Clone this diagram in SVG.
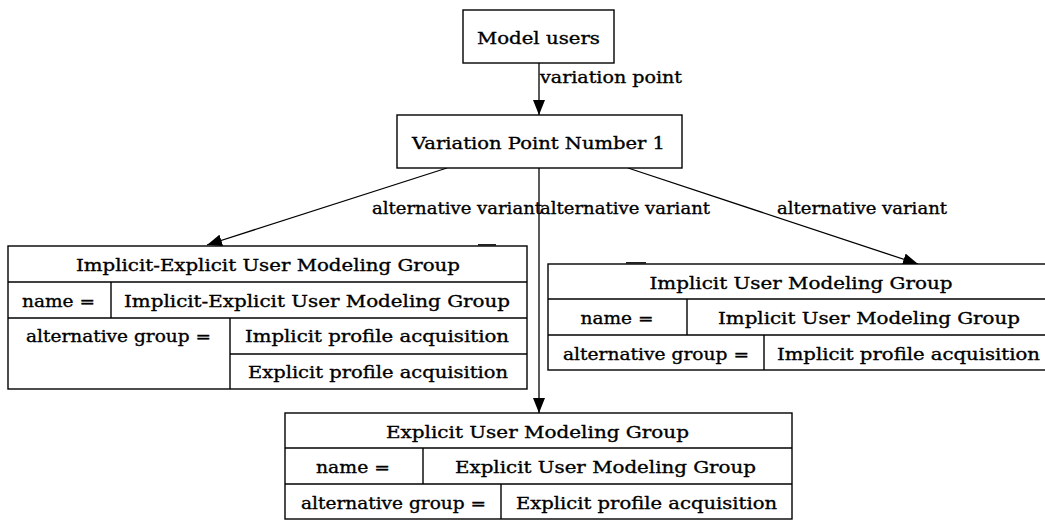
<svg xmlns="http://www.w3.org/2000/svg" width="1045" height="520" viewBox="0 0 1045 520">
  <style>
    text { font-family: "DejaVu Serif", "Liberation Serif", serif; font-size: 17px; fill: #000; stroke: #000; stroke-width: 0.35; }
    .c { text-anchor: middle; }
    .box { fill: #fff; stroke: #000; stroke-width: 1.4; }
    .rule { stroke: #000; stroke-width: 1.4; fill: none; }
    .edge { stroke: #000; stroke-width: 1.3; fill: none; marker-end: url(#arrow); }
    .nick { stroke: #222; stroke-width: 2; }
  </style>
  <defs>
    <marker id="arrow" markerUnits="userSpaceOnUse" markerWidth="15" markerHeight="12" refX="15" refY="6" orient="auto">
      <path d="M0,0 L15,6 L0,12 z" fill="#000"/>
    </marker>
  </defs>

  <rect width="1045" height="520" fill="#fff"/>

  <!-- connectors -->
  <g id="edges">
    <line class="edge" x1="539" y1="63" x2="539" y2="115"/>
    <line class="edge" x1="447" y1="168" x2="207" y2="245"/>
    <line class="edge" x1="539" y1="168" x2="539" y2="413"/>
    <line class="edge" x1="628" y1="168" x2="918" y2="264"/>
    <text x="540" y="83" textLength="142" lengthAdjust="spacingAndGlyphs">variation point</text>
    <text x="372" y="214" textLength="170" lengthAdjust="spacingAndGlyphs">alternative variant</text>
    <text x="540" y="214" textLength="170" lengthAdjust="spacingAndGlyphs">alternative variant</text>
    <text x="777" y="214" textLength="170" lengthAdjust="spacingAndGlyphs">alternative variant</text>
  </g>

  <!-- root node -->
  <g id="model-users">
    <rect class="box" x="463" y="10" width="151" height="53"/>
    <text class="c" x="538.5" y="44" textLength="123" lengthAdjust="spacingAndGlyphs">Model users</text>
  </g>

  <!-- variation point -->
  <g id="variation-point-1">
    <rect class="box" x="397" y="115" width="285" height="53"/>
    <text class="c" x="538.5" y="149" textLength="253" lengthAdjust="spacingAndGlyphs">Variation Point Number 1</text>
  </g>

  <!-- Implicit-Explicit group table -->
  <g id="implicit-explicit-group">
    <rect class="box" x="8" y="246" width="519" height="143"/>
    <line class="rule" x1="8" y1="282" x2="527" y2="282"/>
    <line class="rule" x1="8" y1="318" x2="527" y2="318"/>
    <line class="rule" x1="230" y1="354" x2="527" y2="354"/>
    <line class="rule" x1="111" y1="282" x2="111" y2="318"/>
    <line class="rule" x1="230" y1="318" x2="230" y2="389"/>
    <line class="nick" x1="478" y1="245" x2="496" y2="245"/>
    <text class="c" x="268" y="270.5" textLength="384" lengthAdjust="spacingAndGlyphs">Implicit-Explicit User Modeling Group</text>
    <text class="c" x="58.5" y="306.5" textLength="73" lengthAdjust="spacingAndGlyphs">name =</text>
    <text class="c" x="317" y="306.5" textLength="386" lengthAdjust="spacingAndGlyphs">Implicit-Explicit User Modeling Group</text>
    <text class="c" x="118.5" y="342" textLength="185" lengthAdjust="spacingAndGlyphs">alternative group =</text>
    <text class="c" x="377" y="342" textLength="264" lengthAdjust="spacingAndGlyphs">Implicit profile acquisition</text>
    <text class="c" x="378" y="378" textLength="260" lengthAdjust="spacingAndGlyphs">Explicit profile acquisition</text>
  </g>

  <!-- Implicit group table -->
  <g id="implicit-group">
    <rect class="box" x="548" y="264" width="505" height="106"/>
    <line class="rule" x1="548" y1="299" x2="1053" y2="299"/>
    <line class="rule" x1="548" y1="335" x2="1053" y2="335"/>
    <line class="rule" x1="687" y1="299" x2="687" y2="335"/>
    <line class="rule" x1="764" y1="335" x2="764" y2="370"/>
    <line class="nick" x1="626" y1="263" x2="646" y2="263"/>
    <text class="c" x="801" y="288.5" textLength="303" lengthAdjust="spacingAndGlyphs">Implicit User Modeling Group</text>
    <text class="c" x="617" y="324" textLength="73" lengthAdjust="spacingAndGlyphs">name =</text>
    <text class="c" x="869" y="324" textLength="302" lengthAdjust="spacingAndGlyphs">Implicit User Modeling Group</text>
    <text class="c" x="656" y="359.5" textLength="186" lengthAdjust="spacingAndGlyphs">alternative group =</text>
    <text class="c" x="908.5" y="359.5" textLength="263" lengthAdjust="spacingAndGlyphs">Implicit profile acquisition</text>
  </g>

  <!-- Explicit group table -->
  <g id="explicit-group">
    <rect class="box" x="285" y="413" width="507" height="106"/>
    <line class="rule" x1="285" y1="448" x2="792" y2="448"/>
    <line class="rule" x1="285" y1="484" x2="792" y2="484"/>
    <line class="rule" x1="423" y1="448" x2="423" y2="484"/>
    <line class="rule" x1="501" y1="484" x2="501" y2="519"/>
    <text class="c" x="537.5" y="437.5" textLength="303" lengthAdjust="spacingAndGlyphs">Explicit User Modeling Group</text>
    <text class="c" x="353" y="473" textLength="74" lengthAdjust="spacingAndGlyphs">name =</text>
    <text class="c" x="605.5" y="473" textLength="301" lengthAdjust="spacingAndGlyphs">Explicit User Modeling Group</text>
    <text class="c" x="393.5" y="508.5" textLength="185" lengthAdjust="spacingAndGlyphs">alternative group =</text>
    <text class="c" x="646.5" y="508.5" textLength="261" lengthAdjust="spacingAndGlyphs">Explicit profile acquisition</text>
  </g>
</svg>
